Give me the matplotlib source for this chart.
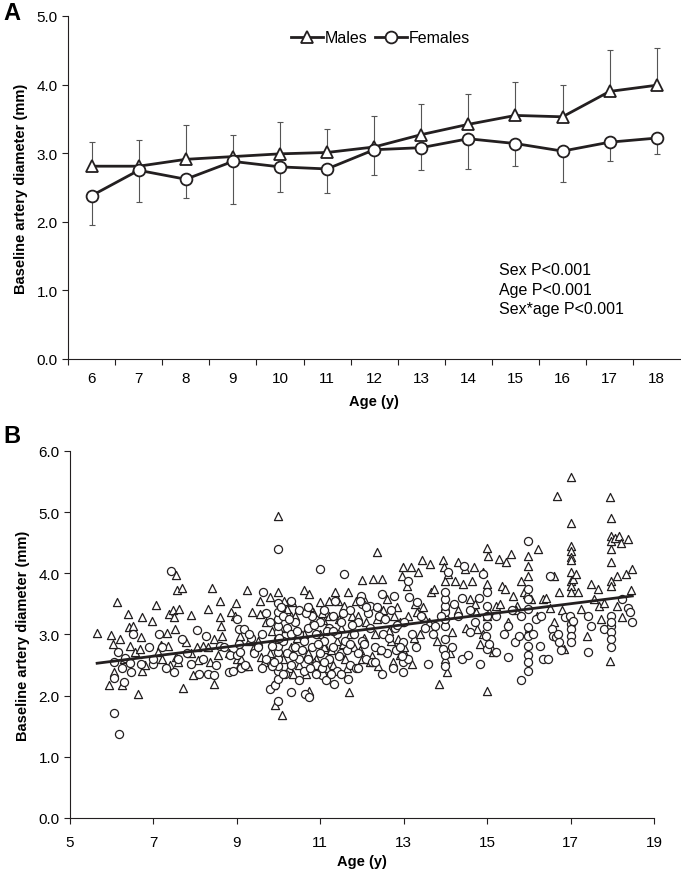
import matplotlib
matplotlib.use("Agg")
import matplotlib.pyplot as plt
import numpy as np

# Panel A: mean diameter by age with SD
ages = [6, 7, 8, 9, 10, 11, 12, 13, 14, 15, 16, 17, 18]
male_mean = [2.81, 2.81, 2.91, 2.95, 2.99, 3.01, 3.09, 3.27, 3.42, 3.55, 3.53, 3.90, 3.99]
male_sd = [0.35, 0.38, 0.50, 0.32, 0.46, 0.34, 0.45, 0.45, 0.44, 0.49, 0.47, 0.61, 0.54]
female_mean = [2.38, 2.75, 2.62, 2.88, 2.80, 2.77, 3.05, 3.08, 3.21, 3.14, 3.03, 3.16, 3.22]
female_sd = [0.43, 0.46, 0.28, 0.62, 0.37, 0.35, 0.37, 0.33, 0.44, 0.33, 0.45, 0.28, 0.23]
stats_text = ["Sex P<0.001", "Age P<0.001", "Sex*age P<0.001"]

# Panel B: individual measurements
male_age = [5.65, 5.94, 5.99, 6.02, 6.06, 6.12, 6.20, 6.25, 6.38, 6.43,
            6.41, 6.51, 6.56, 6.64, 6.69, 6.72, 6.67, 6.73, 6.96, 7.05,
            7.10, 7.18, 7.33, 7.35, 7.37, 7.48, 7.50, 7.52, 7.55, 7.57,
            7.62, 7.68, 7.53, 7.58, 7.71, 7.79, 7.91, 7.94, 8.04, 8.07,
            8.20, 8.31, 8.36, 8.41, 8.44, 8.46, 8.54, 8.59, 8.60, 8.63,
            8.64, 8.85, 8.99, 8.96, 9.01, 9.04, 9.08, 9.16, 9.24, 9.27,
            9.37, 9.42, 9.56, 9.58, 9.79, 9.87, 9.91, 9.99, 9.99, 10.08,
            10.13, 10.20, 10.29, 10.33, 10.41, 10.62, 10.74, 10.83, 10.74, 10.99,
            11.07, 11.14, 11.22, 11.35, 11.43, 11.56, 11.66, 11.68, 11.77, 11.99,
            12.04, 12.18, 12.26, 12.37, 12.39, 12.47, 12.49, 12.60, 12.76, 12.86,
            12.91, 12.96, 12.99, 13.07, 13.17, 13.20, 13.27, 13.31, 13.35, 13.43,
            13.48, 13.64, 13.66, 13.72, 13.85, 13.93, 13.95, 13.97, 14.00, 14.00,
            14.00, 14.03, 14.05, 14.16, 14.24, 14.31, 14.42, 14.47, 14.58, 14.63,
            14.73, 14.68, 14.76, 14.84, 14.89, 14.99, 15.01, 15.00, 15.00, 15.05,
            15.15, 15.20, 15.28, 15.36, 15.43, 15.46, 15.56, 15.62, 15.72, 15.81,
            15.88, 15.95, 15.98, 15.98, 15.98, 16.05, 16.22, 16.35, 16.50, 16.61,
            16.68, 16.71, 16.85, 17.00, 17.00, 17.00, 17.00, 17.00, 17.00, 17.00,
            17.00, 17.00, 17.00, 17.06, 17.13, 17.18, 17.24, 17.40, 17.49, 17.57,
            17.65, 17.68, 17.73, 17.80, 17.95, 17.98, 17.98, 17.98, 17.98, 17.98,
            17.98, 17.98, 17.95, 18.06, 18.11, 18.11, 18.16, 18.21, 18.32, 18.37,
            18.44, 18.48, 18.24,
            6.3, 6.8, 7.2, 7.4, 7.9, 8.3, 8.8, 9.1, 9.3, 9.5,
            9.7, 9.8, 10.0, 10.1, 10.2, 10.3, 10.4, 10.5, 10.6, 10.7,
            10.8, 10.9, 11.0, 11.1, 11.2, 11.3, 11.4, 11.5, 11.6, 11.7,
            11.8, 11.9, 12.0, 12.1, 12.3, 12.5, 12.7, 12.9, 13.0, 13.1,
            13.4, 13.6, 13.8, 14.0, 14.1, 14.3, 14.5, 14.7, 14.9, 15.0,
            15.1, 15.3, 15.5, 15.7, 16.0, 16.2, 16.4, 16.6, 16.8,
            9.65, 9.85, 10.05, 10.25, 10.45, 10.65, 10.85, 11.05, 11.25, 11.45,
            11.65, 11.85, 12.05, 12.25, 12.45, 12.65, 12.85, 13.05, 13.25, 13.45,
            9.55, 10.35, 10.75, 11.15, 11.55, 11.95, 12.35, 12.75]
male_diam = [3.02, 2.18, 2.99, 2.85, 2.39, 3.53, 2.92, 2.17, 3.34, 2.82,
             3.12, 3.14, 2.71, 2.03, 2.96, 3.28, 2.77, 2.41, 3.22, 3.49,
             2.71, 2.83, 3.03, 2.82, 3.34, 3.40, 3.28, 3.09, 3.97, 3.72,
             3.41, 3.76, 2.63, 2.55, 2.12, 2.87, 3.32, 2.33, 2.80, 2.59,
             2.82, 3.42, 2.55, 3.76, 2.19, 2.92, 2.66, 3.54, 3.28, 3.14,
             2.98, 3.36, 3.51, 3.31, 2.60, 2.49, 2.98, 2.49, 3.72, 2.49,
             3.36, 2.79, 3.34, 2.63, 3.61, 2.17, 1.85, 3.69, 4.94, 1.68,
             3.55, 3.42, 3.31, 3.53, 3.04, 3.72, 3.66, 3.36, 2.07, 3.53,
             3.23, 2.76, 3.55, 3.69, 3.55, 3.47, 3.69, 2.06, 3.31, 3.89,
             3.58, 2.55, 3.91, 4.35, 2.49, 3.91, 3.36, 3.58, 3.31, 2.93,
             2.66, 3.96, 4.10, 3.80, 4.10, 2.52, 3.50, 3.36, 4.02, 4.21,
             3.28, 4.15, 3.69, 3.74, 2.19, 3.36, 4.21, 4.10, 3.88, 3.47,
             2.60, 2.38, 3.99, 3.04, 3.88, 4.18, 3.82, 4.07, 3.58, 3.88,
             3.36, 4.10, 3.09, 2.85, 4.02, 4.42, 4.29, 3.82, 2.07, 3.36,
             2.71, 3.47, 4.23, 3.80, 3.74, 4.18, 4.31, 3.63, 3.47, 3.88,
             3.69, 3.66, 4.29, 4.12, 3.96, 3.58, 4.40, 3.58, 3.43, 3.96,
             5.26, 3.70, 2.76, 5.57, 4.82, 4.45, 4.37, 4.26, 4.21, 4.02,
             3.88, 3.80, 3.69, 3.91, 3.99, 3.69, 3.42, 2.98, 3.82, 3.58,
             3.74, 3.47, 3.25, 3.52, 5.24, 4.91, 4.61, 4.53, 4.40, 4.18,
             3.88, 3.80, 2.57, 4.58, 3.96, 3.47, 4.61, 4.50, 3.99, 4.56,
             3.72, 4.07, 3.28,
             2.6, 2.5, 2.6, 2.5, 2.7, 2.8, 2.7, 2.6, 2.9, 2.9,
             3.2, 2.7, 3.0, 2.6, 3.1, 2.8, 3.3, 2.5, 3.0, 2.7,
             3.2, 2.6, 3.0, 2.8, 3.3, 2.5, 2.9, 3.1, 2.6, 3.0,
             2.8, 3.3, 2.6, 3.2, 3.0, 3.4, 2.9, 3.2, 2.8, 3.3,
             3.0, 3.2, 2.9, 3.2, 2.7, 3.4, 3.1, 3.5, 3.0, 3.3,
             2.8, 3.5, 3.2, 3.4, 3.1, 3.3, 3.6, 3.2, 3.4,
             2.55, 3.05, 3.45, 2.45, 2.95, 2.35, 2.55, 3.35, 2.75, 3.25,
             2.45, 3.55, 2.95, 2.65, 2.75, 3.05, 3.45, 2.65, 2.95, 3.45,
             3.55, 2.35, 3.45, 2.45, 2.85, 2.75, 3.25, 2.55]

female_age = [6.06, 6.18, 6.15, 6.06, 6.06, 6.25, 6.30, 6.33, 6.43, 6.46,
              6.51, 6.69, 6.89, 6.98, 7.14, 7.31, 7.41, 7.50, 7.69, 7.91,
              8.04, 8.10, 8.25, 8.31, 8.44, 8.59, 8.80, 8.83, 9.01, 9.01,
              9.04, 9.06, 9.08, 9.11, 9.18, 9.35, 9.63, 9.79, 9.92, 9.99,
              9.99, 9.99, 9.99, 9.99, 9.99, 9.99, 9.99, 9.99, 9.99, 9.99,
              9.99, 9.99, 9.99, 9.84, 9.84, 10.29, 10.64, 10.74, 10.99, 11.04,
              11.14, 11.33, 11.56, 11.66, 11.97, 12.18, 12.49, 12.49, 12.76, 12.81,
              12.99, 12.99, 12.99, 13.10, 13.12, 13.31, 13.41, 13.59, 13.74, 13.93,
              14.00, 14.00, 14.00, 14.00, 14.00, 14.00, 14.00, 14.00, 14.00, 14.05,
              14.16, 14.39, 14.44, 14.54, 14.58, 14.84, 14.89, 14.97, 15.00, 15.00,
              15.00, 15.00, 15.00, 15.05, 15.20, 15.51, 15.51, 15.66, 15.77, 15.80,
              15.82, 15.98, 15.98, 15.98, 15.98, 15.98, 15.98, 15.98, 15.98, 15.98,
              15.98, 16.16, 16.27, 16.35, 16.46, 16.50, 16.56, 16.58, 16.66, 16.71,
              16.77, 16.87, 16.98, 17.00, 17.00, 17.00, 17.00, 17.06, 17.42, 17.42,
              17.49, 17.80, 17.98, 17.98, 17.98, 17.98, 17.98, 17.98, 18.24, 18.37,
              18.42, 18.48,
              7.0, 7.2, 7.6, 7.8, 8.2, 8.5, 8.7, 8.9, 9.2, 9.3,
              9.4, 9.5, 9.6, 9.7, 9.8, 10.1, 10.1, 10.2, 10.2, 10.3,
              10.3, 10.4, 10.4, 10.5, 10.5, 10.5, 10.6, 10.6, 10.7, 10.7,
              10.8, 10.8, 10.9, 10.9, 11.0, 11.0, 11.1, 11.1, 11.2, 11.2,
              11.3, 11.3, 11.4, 11.4, 11.5, 11.5, 11.6, 11.7, 11.7, 11.8,
              11.9, 11.9, 12.0, 12.0, 12.1, 12.2, 12.3, 12.4, 12.5, 12.6,
              12.7, 12.8, 12.9, 13.0, 13.1, 13.2, 13.3, 13.5, 13.7, 13.9,
              14.2, 14.3, 14.4, 14.6, 14.7, 14.8, 15.2, 15.4, 15.6, 16.1,
              16.3, 16.7,
              9.6, 9.7, 9.9, 10.0, 10.05, 10.15, 10.25, 10.35, 10.45, 10.55,
              10.65, 10.75, 10.85, 10.95, 11.05, 11.15, 11.25, 11.35, 11.45, 11.55,
              11.65, 11.75, 11.85, 11.95, 12.05, 12.15, 12.25, 12.35, 12.45, 12.55,
              12.65, 12.75, 12.85, 12.95, 10.1, 10.3, 10.5, 10.7, 10.9, 11.1,
              11.3, 11.5, 11.7, 11.9, 12.1, 12.3]
female_diam = [1.72, 1.38, 2.71, 2.55, 2.29, 2.46, 2.23, 2.62, 2.54, 2.38,
               3.01, 2.52, 2.79, 2.52, 3.01, 2.46, 4.03, 2.38, 2.93, 2.52,
               3.07, 2.36, 2.97, 2.36, 2.33, 2.82, 2.39, 2.66, 2.66, 3.25,
               3.09, 2.85, 2.71, 2.46, 3.09, 2.94, 3.69, 2.11, 2.17, 4.40,
               1.92, 2.27, 2.41, 2.49, 2.60, 2.71, 2.82, 2.93, 3.04, 3.14,
               3.25, 3.36, 3.51, 2.82, 2.49, 2.06, 2.03, 1.98, 4.07, 2.33,
               2.25, 2.19, 3.99, 2.27, 3.63, 3.47, 2.36, 3.66, 3.63, 2.74,
               2.87, 2.55, 2.38, 3.88, 3.61, 3.53, 3.31, 2.52, 3.14, 2.76,
               2.49, 2.66, 2.93, 3.14, 3.25, 3.36, 3.47, 3.58, 3.69, 4.02,
               2.79, 2.60, 4.12, 2.66, 3.04, 2.52, 3.99, 2.98, 3.14, 3.31,
               3.69, 3.47, 2.76, 2.85, 2.71, 3.14, 2.63, 2.87, 2.98, 2.25,
               3.31, 4.53, 3.74, 3.58, 3.42, 3.12, 2.98, 2.82, 2.66, 2.55,
               2.41, 3.25, 2.82, 2.60, 2.60, 3.96, 3.09, 2.98, 2.96, 2.87,
               2.74, 3.28, 3.31, 3.17, 3.09, 2.98, 2.87, 3.22, 3.31, 2.71,
               3.14, 3.09, 3.31, 3.14, 3.04, 2.93, 2.79, 3.20, 3.58, 3.44,
               3.36, 3.21,
               2.6, 2.8, 2.6, 2.7, 2.6, 2.5, 2.8, 2.4, 2.5, 3.0,
               2.7, 2.8, 3.0, 2.6, 3.2, 2.9, 3.3, 2.7, 3.1, 2.5,
               3.0, 2.8, 3.2, 2.6, 3.0, 3.4, 2.4, 2.9, 3.1, 2.6,
               2.8, 3.3, 3.0, 2.5, 2.7, 3.2, 2.9, 3.4, 2.6, 3.1,
               2.8, 3.3, 2.4, 3.0, 2.7, 3.2, 2.9, 2.5, 3.4, 3.0,
               2.7, 3.2, 2.9, 3.5, 2.6, 3.1, 2.8, 3.3, 3.0, 2.7,
               3.4, 3.1, 2.8, 3.2, 2.6, 3.0, 2.8, 3.1, 3.0, 3.3,
               3.5, 3.3, 3.6, 3.4, 3.2, 3.6, 3.3, 3.0, 3.4, 3.0,
               3.3, 3.0,
               2.45, 3.35, 2.55, 2.95, 3.45, 2.35, 3.25, 2.65, 3.05, 2.75,
               3.35, 2.45, 3.15, 2.85, 2.45, 3.05, 2.35, 3.55, 2.65, 3.35,
               2.75, 3.15, 2.45, 3.55, 2.85, 3.35, 2.55, 3.45, 2.75, 3.25,
               2.95, 2.45, 3.15, 2.65, 2.35, 3.55, 2.25, 3.45, 2.35, 2.55,
               3.05, 2.35, 2.85, 2.45, 3.45, 2.55]

# fitted regression line (end points)
fit_age = [5.65, 18.48]
fit_diam = [2.53, 3.63]

plt.rcParams["font.family"] = ["Liberation Sans", "DejaVu Sans"]
plt.rcParams["font.size"] = 11
label_font = {"weight": "bold", "size": 10.5}
dark = "#231f20"

fig = plt.figure(figsize=(6.81, 8.78), dpi=100)

# ---------------- Panel A ----------------
ax1 = fig.add_axes([0.0999, 0.590, 0.899, 0.3907])
pos = np.arange(len(ages))
ax1.errorbar(pos, male_mean, yerr=[np.zeros(len(ages)), male_sd], fmt="none",
             ecolor="#555555", elinewidth=0.8, capsize=2.5, capthick=0.8, zorder=1)
ax1.errorbar(pos, female_mean, yerr=[female_sd, np.zeros(len(ages))], fmt="none",
             ecolor="#555555", elinewidth=0.8, capsize=2.5, capthick=0.8, zorder=1)
ax1.plot(pos, male_mean, color=dark, lw=2, marker="^", ms=8.5, mfc="white",
         mec=dark, mew=1.3, label="Males", zorder=3)
ax1.plot(pos, female_mean, color=dark, lw=2, marker="o", ms=8.5, mfc="white",
         mec=dark, mew=1.3, label="Females", zorder=3)

ax1.set_xlim(-0.5, 12.5)
ax1.set_ylim(0, 5)
ax1.set_yticks(np.arange(0, 5.01, 1.0))
ax1.set_yticklabels([f"{v:.1f}" for v in np.arange(0, 5.01, 1.0)])
ax1.set_xticks(np.arange(-0.5, 12, 1.0))
ax1.set_xticklabels([])
ax1.set_xticks(pos, minor=True)
ax1.set_xticklabels([str(a) for a in ages], minor=True)
ax1.tick_params(axis="x", which="minor", length=0, pad=9)
ax1.tick_params(axis="x", which="major", length=4, color=dark)
ax1.tick_params(axis="y", length=4, color=dark)
for s in ["top", "right"]:
    ax1.spines[s].set_visible(False)
for s in ["left", "bottom"]:
    ax1.spines[s].set_color(dark)
ax1.set_xlabel("Age (y)", fontdict=label_font, labelpad=6)
ax1.set_ylabel("Baseline artery diameter (mm)", fontdict=label_font, labelpad=6)
ax1.legend(loc="upper center", bbox_to_anchor=(0.51, 1.0), ncol=2, frameon=False,
           handlelength=2.0, handletextpad=0.1, columnspacing=0.5, fontsize=11.5)
ax1.text(8.65, 1.02, "\n".join(stats_text), ha="left", va="center",
         fontsize=11.5, linespacing=1.35)
fig.text(0.005, 0.985, "A", fontsize=17, fontweight="bold", va="center")

# ---------------- Panel B ----------------
ax2 = fig.add_axes([0.1028, 0.0672, 0.8576, 0.418])
ax2.scatter(male_age, male_diam, marker="^", s=34, facecolors="white",
            edgecolors=dark, linewidths=0.9, zorder=2)
ax2.scatter(female_age, female_diam, marker="o", s=34, facecolors="white",
            edgecolors=dark, linewidths=0.9, zorder=2)
ax2.plot(fit_age, fit_diam, color=dark, lw=2, zorder=3)

ax2.set_xlim(5, 19)
ax2.set_ylim(0, 6)
ax2.set_xticks(np.arange(5, 20, 2))
ax2.set_yticks(np.arange(0, 6.01, 1.0))
ax2.set_yticklabels([f"{v:.1f}" for v in np.arange(0, 6.01, 1.0)])
ax2.tick_params(axis="x", length=4, color=dark, pad=8)
ax2.tick_params(axis="y", length=4, color=dark)
for s in ["top", "right"]:
    ax2.spines[s].set_visible(False)
for s in ["left", "bottom"]:
    ax2.spines[s].set_color(dark)
ax2.set_xlabel("Age (y)", fontdict=label_font, labelpad=4)
ax2.set_ylabel("Baseline artery diameter (mm)", fontdict=label_font, labelpad=6)
fig.text(0.005, 0.503, "B", fontsize=17, fontweight="bold", va="center")

fig.savefig("out.png", dpi=100)
